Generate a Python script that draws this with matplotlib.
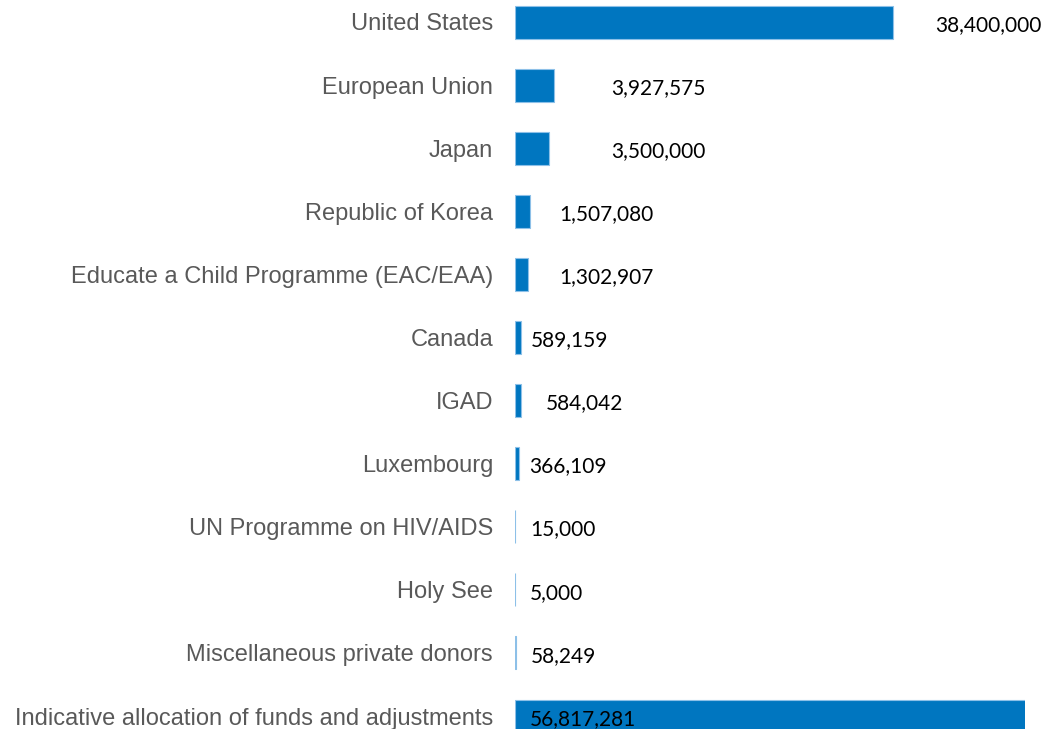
import matplotlib
matplotlib.use("Agg")
import matplotlib.pyplot as plt

# Contributions by donor
donors = [
    "United States",
    "European Union",
    "Japan",
    "Republic of Korea",
    "Educate a Child Programme (EAC/EAA)",
    "Canada",
    "IGAD",
    "Luxembourg",
    "UN Programme on HIV/AIDS",
    "Holy See",
    "Miscellaneous private donors",
    "Indicative allocation of funds and adjustments",
]
amounts = [38400000, 3927575, 3500000, 1507080, 1302907, 589159,
           584042, 366109, 15000, 5000, 58249, 56817281]

# layout: gap (px) between bar end and value label, label inside bar for last row
label_gap = [42, 57, 62, 29, 31, 10, 25, 11, 15, 15, 15, 15]
label_inside = [False] * 11 + [True]

W, H, DPI = 1047, 729, 100
fig = plt.figure(figsize=(W / DPI, H / DPI), dpi=DPI)
x0, x1 = 515, 1025
ax = fig.add_axes([x0 / W, 0, (x1 - x0) / W, 1])

px_per_unit = 378 / 38400000
row_px = (716 - 22) / 11
n_rows = H / row_px
top = -22 / row_px

ypos = list(range(len(donors)))
ax.barh(ypos, amounts, height=33 / row_px, color="#0076C0",
        edgecolor="#8DC0E8", linewidth=0.8)

ax.set_xlim(0, (x1 - x0) / px_per_unit)
ax.set_ylim(top + n_rows, top)

for i, v in enumerate(amounts):
    start = 0 if label_inside[i] else v
    ax.annotate(f"{v:,}", xy=(start, i), xytext=(label_gap[i] * 72 / DPI, -2),
                textcoords="offset points", ha="left", va="center",
                fontsize=15, family="Lato", color="black",
                annotation_clip=False)

ax.set_yticks(ypos)
ax.set_yticklabels(donors, fontsize=17, family="Liberation Sans", color="#595959")
ax.tick_params(axis="y", length=0, pad=22 * 72 / DPI)
ax.set_xticks([])
for s in ax.spines.values():
    s.set_visible(False)

fig.savefig("out.png", dpi=DPI)
